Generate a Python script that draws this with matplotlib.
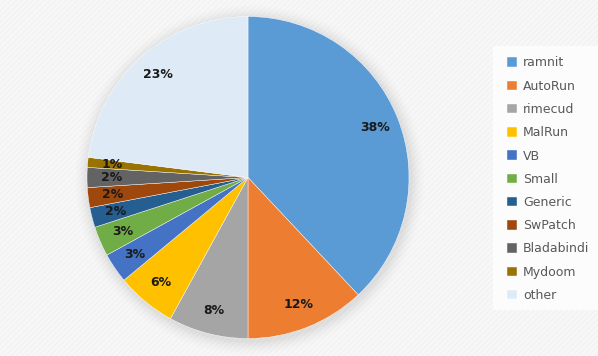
import numpy as np
import matplotlib.pyplot as plt
from matplotlib.patches import Rectangle, Circle

# data
families = ["ramnit", "AutoRun", "rimecud", "MalRun", "VB", "Small",
            "Generic", "SwPatch", "Bladabindi", "Mydoom", "other"]
share = [38, 12, 8, 6, 3, 3, 2, 2, 2, 1, 23]
colors = ["#5B9BD5", "#ED7D31", "#A5A5A5", "#FFC000", "#4472C4", "#70AD47",
          "#255E91", "#9E480E", "#636363", "#997300", "#DEEBF7"]

W, H = 598, 356
fig = plt.figure(figsize=(W / 100, H / 100), dpi=100)
fig.patch.set_facecolor("#F7F7F7")

# faint diagonal texture of the background
plt.rcParams["hatch.linewidth"] = 0.5
bg = Rectangle((0, 0), 1, 1, transform=fig.transFigure, facecolor="none",
               edgecolor="#EFEFEF", hatch="//////", linewidth=0, zorder=-10)
fig.patches.append(bg)

# pie centre and radius in pixels
cx, cy, r = 248, 356 - 177.5, 161
ax = fig.add_axes([(cx - r) / W, (cy - r) / H, 2 * r / W, 2 * r / H])
ax.set_facecolor("none")

# soft shadow under the pie
for i, a in enumerate(np.linspace(0.06, 0.01, 7)):
    c = Circle((0.01, -0.015), 1.0 + 0.012 * (i + 1),
               color="#9A9A9A", alpha=a, lw=0, zorder=0)
    c.set_clip_on(False)
    ax.add_patch(c)

wedges, texts, autotexts = ax.pie(
    share, colors=colors, startangle=90, counterclock=False,
    autopct="%.0f%%", pctdistance=0.85, radius=1.0,
    wedgeprops=dict(linewidth=0.3, edgecolor="#FFFFFF", zorder=2),
    textprops=dict(fontsize=9, fontweight="bold", color="#1A1A1A",
                   family="DejaVu Sans"))
for w in wedges:
    w.set_clip_on(False)
ax.set_xlim(-1.0, 1.0)
ax.set_ylim(-1.0, 1.0)
ax.set_aspect("equal")
ax.axis("off")

# legend panel
fig.patches.append(Rectangle((493 / W, 46 / H), 105 / W, 264 / H,
                             transform=fig.transFigure, facecolor="#FCFCFC",
                             edgecolor="none", zorder=-5))
leg = fig.legend(wedges, families, loc="upper left",
                 bbox_to_anchor=(502 / W, 1 - 51.5 / H), frameon=False,
                 fontsize=9, handlelength=0.8, handleheight=0.8,
                 handletextpad=0.5, labelspacing=0.82, borderaxespad=0)
for t in leg.get_texts():
    t.set_color("#595959")

fig.savefig("out.png", dpi=100, facecolor=fig.get_facecolor())
